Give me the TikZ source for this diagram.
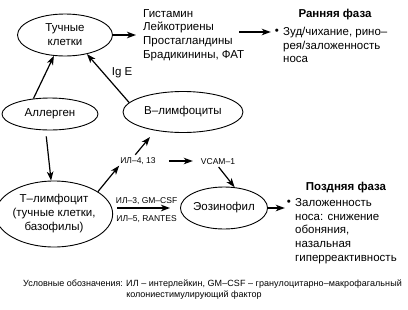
\documentclass[tikz,border=0pt]{standalone}
\usepackage{fontspec}
\setmainfont{Liberation Sans}
\usetikzlibrary{arrows.meta,shapes.geometric,positioning}

\begin{document}
\begin{tikzpicture}[
 x=1pt, y=-1pt,
 cell/.style 2 args={draw, ellipse, line width=0.9pt, inner sep=0pt,
   minimum width=#1, minimum height=#2, align=center,
   font=\fontsize{11.5}{14}\selectfont},
 txt/.style={font=\fontsize{11.5}{13.7}\selectfont, align=left, inner sep=1pt},
 lbl/.style={font=\fontsize{8.5}{10}\selectfont, inner sep=1pt},
 head/.style={font=\bfseries\fontsize{11.5}{13.5}\selectfont},
 arr/.style={-{Stealth[length=9pt, width=6.5pt, inset=2.5pt]}, line width=1.2pt},
 note/.style={font=\fontsize{9}{11}\selectfont, inner sep=0pt}
]
\useasboundingbox (0,0) rectangle (408,309);

% Cells
\node[cell={95pt}{42pt}] (mast) at (65,35) {Тучные\\клетки};
\node[cell={96pt}{32pt}] (allergen) at (50,114) {Аллерген};
\node[cell={120pt}{41pt}] (blym) at (183,112) {В–лимфоциты};
\node[cell={104pt}{66pt}] (tlym) at (54,214) {Т–лимфоцит\\(тучные клетки,\\базофилы)};
\node[cell={77pt}{42pt}] (eos) at (224,208) {Эозинофил};

% Mediators
\node[txt, anchor=west] (medi) at (142,35) {Гистамин\\Лейкотриены\\Простагландины\\Брадикинины, ФАТ};
\coordinate (medi out) at ([xshift=-6pt]medi.east);

% Cytokines
\node[lbl] (il4) at (138,161) {ИЛ–4, 13};
\node[lbl] (vcam) at (218,162) {VCAM–1};
\coordinate (il4tip) at (150,137);

% Early phase
\node[head] (early) at (335,15) {Ранняя фаза};
\node[txt] (bul1) at (277,32) {•};
\node[txt, anchor=west] (early text) at (282,45) {Зуд/чихание, рино–\\рея/заложенность\\носа};

% Late phase
\node[head] (late) at (346,188) {Поздняя фаза};
\node[txt] (bul2) at (289,203) {•};
\node[txt, anchor=west] (late text) at (294,231) {Заложенность\\носа: снижение\\обоняния,\\назальная\\гиперреактивность};

% Legend
\node[note, anchor=base west] (legend) at (23,286) {Условные обозначения: \begin{tabular}[t]{@{}l@{}}
  \addfontfeature{LetterSpace=0.8}ИЛ – интерлейкин, GM–CSF – гранулоцитарно–макрофагальный\\
  колониестимулирующий фактор\end{tabular}};

% Connectors
\draw[arr, shorten >=6pt] (mast.east) -- (mast.east -| medi.west);
\draw[arr, shorten >=3pt] (medi out |- bul1.west) -- (bul1.west);
\draw[arr] (allergen.137) -- (mast.242);
\draw[arr] (blym.170) -- (mast.319) node[txt, midway, above right=-1pt, xshift=3pt] {Ig E};
\draw[arr, shorten <=6pt] (allergen.255) -- (tlym.95);
\draw[arr] (tlym.27) -- (il4.south west);
\draw[arr, shorten <=2pt] ([xshift=-4pt]il4.north) -- (il4tip);
\draw[arr, shorten <=12pt, shorten >=7pt] (il4.east) -- (il4.east -| vcam.west);
\draw[arr, shorten <=1pt] (vcam.south) -- (eos.63);
\draw[arr, line width=1.5pt, shorten <=4pt, shorten >=10pt] (tlym.east |- eos.west) -- (eos.west)
  node[lbl, midway, above=2pt] {ИЛ–3, GM–CSF}
  node[lbl, midway, below=6pt] {ИЛ–5, RANTES};
\draw[arr, shorten >=1pt] (eos.east) -- (eos.east -| bul2.west);
\end{tikzpicture}
\end{document}
